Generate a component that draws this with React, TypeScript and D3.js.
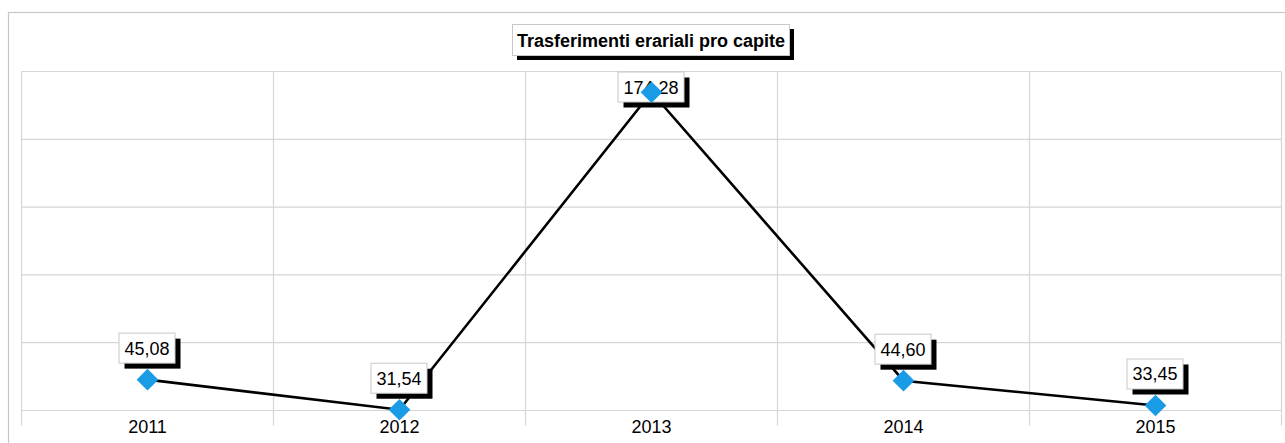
import React from "react";
import * as d3 from "d3";

const categories = ["2011", "2012", "2013", "2014", "2015"];
const values = [45.08, 31.54, 174.28, 44.6, 33.45];
const valueLabels = ["45,08", "31,54", "174,28", "44,60", "33,45"];
const title = "Trasferimenti erariali pro capite";

const W = 1285;
const H = 443;
const plot = { left: 21.5, right: 1281.5, top: 71.5, bottom: 410.5 };
const yMin = 31.2;
const yMax = 183.6;
const FONT = "'Liberation Sans', Arial, sans-serif";

export default function App() {
  const x = d3
    .scaleBand<string>()
    .domain(categories)
    .range([plot.left, plot.right])
    .padding(0);
  const y = d3.scaleLinear().domain([yMin, yMax]).range([plot.bottom, plot.top]);
  const gridVals = d3.range(6).map((i) => yMin + (i * (yMax - yMin)) / 5);
  const cx = (c: string) => (x(c) as number) + x.bandwidth() / 2;

  const line = d3
    .line<number>()
    .x((_, i) => cx(categories[i]))
    .y((d) => y(d));

  const bounds = [...categories.map((c) => x(c) as number), plot.right];

  const diamond = d3.symbol().type(d3.symbolDiamond2).size(300)();

  return (
    <svg
      width={W}
      height={H}
      style={{ position: "absolute", left: 0, top: 0, background: "#fff" }}
    >
      {/* outer border */}
      <rect x={8.5} y={12.5} width={W + 10} height={H + 10} fill="#fff" stroke="#c6c6c6" strokeWidth={1.2} />
      {/* horizontal gridlines */}
      {gridVals.map((g, i) => (
        <line key={"h" + i} x1={plot.left} x2={plot.right} y1={y(g)} y2={y(g)} stroke="#d6d6d6" strokeWidth={1.2} />
      ))}
      {/* vertical gridlines / ticks */}
      {bounds.map((b, i) => (
        <line key={"v" + i} x1={b} x2={b} y1={plot.top} y2={plot.bottom + 15} stroke="#d6d6d6" strokeWidth={1.2} />
      ))}
      {/* x labels */}
      {categories.map((c) => (
        <text key={c} x={cx(c)} y={433} textAnchor="middle" fontFamily={FONT} fontSize={18} fill="#000">
          {c}
        </text>
      ))}
      {/* line */}
      <path d={line(values) || ""} fill="none" stroke="#000" strokeWidth={2.6} />
      {/* labels */}
      {values.map((v, i) => {
        const lbl = valueLabels[i];
        const tw = lbl.length * 10 - 5;
        const bw = tw + 11;
        const bh = 30;
        const mx = cx(categories[i]);
        let top = y(v) - 17 - bh;
        if (top < plot.top) top = plot.top;
        const left = mx - bw / 2 - 1;
        return (
          <g key={"l" + i}>
            <rect x={left + 6} y={top + 6} width={bw} height={bh} fill="#000" />
            <rect x={left + 0.5} y={top + 0.5} width={bw} height={bh} fill="#fff" stroke="#c8c8c8" strokeWidth={1} />
            <text x={left + bw / 2 + 0.5} y={top + bh / 2 + 7} textAnchor="middle" fontFamily={FONT} fontSize={18} fill="#000">
              {lbl}
            </text>
          </g>
        );
      })}
      {/* markers */}
      {values.map((v, i) => (
        <path key={"m" + i} d={diamond || ""} transform={`translate(${cx(categories[i])},${y(v)})`} fill="#1a9be6" />
      ))}
      {/* title */}
      <g>
        <rect x={517} y={29} width={277} height={31} fill="#000" />
        <rect x={512.5} y={24.5} width={277} height={31} fill="#fff" stroke="#c8c8c8" strokeWidth={1} />
        <text x={651} y={46.5} textAnchor="middle" fontFamily={FONT} fontSize={18} fontWeight="bold" fill="#000">
          {title}
        </text>
      </g>
    </svg>
  );
}
